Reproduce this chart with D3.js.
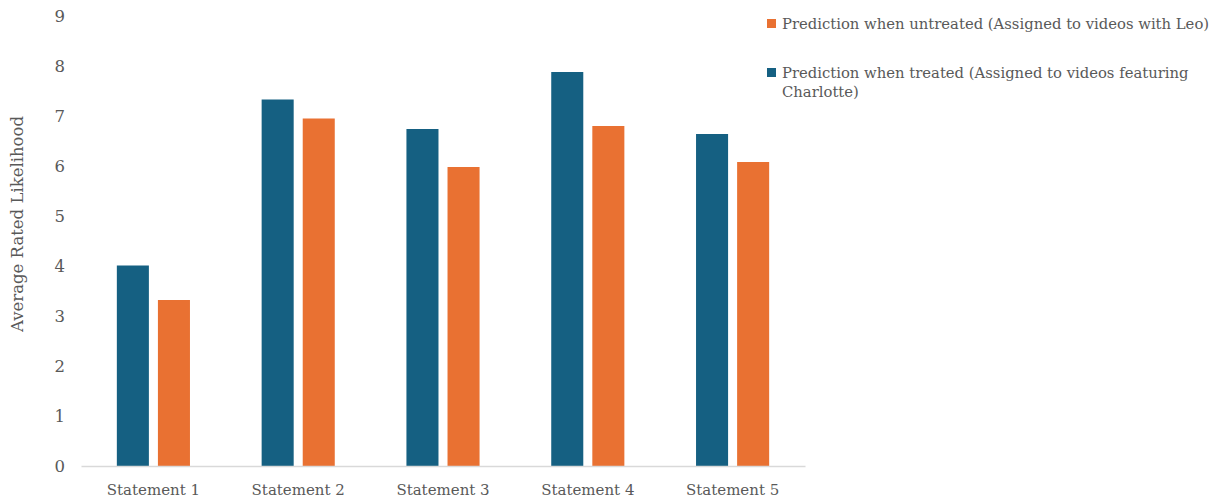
<!DOCTYPE html>
<html>
<head>
<meta charset="utf-8">
<script src="https://cdn.jsdelivr.net/npm/d3@7"></script>
<style>
  body { margin: 0; background: #fff; }
  text { font-family: "DejaVu Serif", serif; fill: #595959; }
</style>
</head>
<body>
<script>
var categories = ["Statement 1", "Statement 2", "Statement 3", "Statement 4", "Statement 5"],
	treated = [4.01, 7.33, 6.74, 7.88, 6.64],
	untreated = [3.32, 6.95, 5.98, 6.80, 6.08],
	yTicks = [0, 1, 2, 3, 4, 5, 6, 7, 8, 9];

var seriesNames = ["Prediction when treated (Assigned to videos featuring Charlotte)",
	"Prediction when untreated (Assigned to videos with Leo)"];
var colors = ["#156082", "#E97132"];

var width = 1217, height = 501;
var margin = {top: 16, left: 81, right: 412, bottom: 35};

var svg = d3.select('body')
	.append('svg')
	.attr('width', width)
	.attr('height', height);

// scales
var x0 = d3.scaleBand()
	.domain(categories)
	.range([margin.left, width - margin.right])
	.paddingInner(0.495)
	.paddingOuter(0.2475);

var x1 = d3.scaleBand()
	.domain([0, 1])
	.range([0, x0.bandwidth()])
	.paddingInner(0.22);

var y = d3.scaleLinear()
	.domain([0, 9])
	.range([height - margin.bottom, margin.top]);

// y axis labels (no line)
var yAxis = svg.append('g')
	.attr('transform', 'translate(' + (margin.left - 16) + ',0)')
	.call(d3.axisLeft(y).tickValues(yTicks).tickSize(0).tickPadding(0));
yAxis.select('.domain').remove();
yAxis.selectAll('text')
	.style('font-size', '16.5px')
	.style('font-family', '"DejaVu Serif", serif')
	.attr('fill', '#595959');

// bars
var groups = svg.append('g')
	.selectAll('g')
	.data(categories)
	.enter().append('g')
	.attr('transform', function(d) { return 'translate(' + x0(d) + ',0)'; });

groups.selectAll('rect')
	.data(function(d, i) { return [treated[i], untreated[i]]; })
	.enter().append('rect')
	.attr('x', function(d, j) { return x1(j); })
	.attr('y', function(d) { return y(d); })
	.attr('width', x1.bandwidth())
	.attr('height', function(d) { return y(0) - y(d); })
	.attr('fill', function(d, j) { return colors[j]; });

// x axis
var xAxis = svg.append('g')
	.attr('transform', 'translate(0,' + y(0) + ')')
	.call(d3.axisBottom(x0).tickSize(0).tickPadding(18));
xAxis.select('.domain').attr('stroke', '#d9d9d9').attr('stroke-width', 1.5);
xAxis.selectAll('text')
	.style('font-size', '15px')
	.style('font-family', '"DejaVu Serif", serif')
	.attr('fill', '#595959');

// y axis title
svg.append('text')
	.attr('transform', 'translate(23,' + 224 + ') rotate(-90)')
	.attr('text-anchor', 'middle')
	.style('font-size', '16.5px')
	.text('Average Rated Likelihood');

// legend
var legend = svg.append('g');
var legendItems = [
	{color: colors[1], lines: [seriesNames[1]], y: 24},
	{color: colors[0], lines: ["Prediction when treated (Assigned to videos featuring", "Charlotte)"], y: 73}
];
legendItems.forEach(function(item) {
	legend.append('rect')
		.attr('x', 767)
		.attr('y', item.y - 5)
		.attr('width', 9)
		.attr('height', 9)
		.attr('fill', item.color);
	item.lines.forEach(function(line, k) {
		legend.append('text')
			.attr('x', 782)
			.attr('y', item.y + k * 19)
			.attr('dy', '0.35em')
			.style('font-size', '14.8px')
			.text(line);
	});
});
</script>
</body>
</html>
